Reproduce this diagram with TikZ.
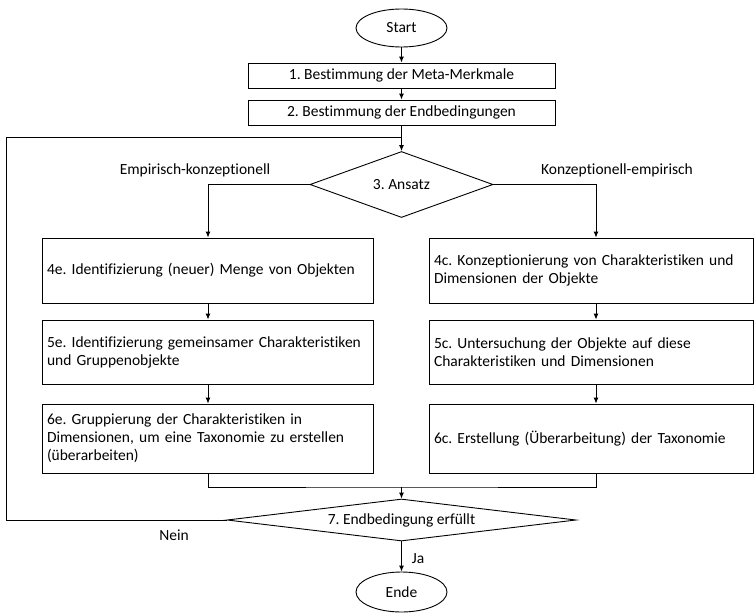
\documentclass[tikz,border=0pt]{standalone}
\usepackage{fontspec}
\setmainfont[Ligatures=NoCommon]{Carlito}
\usetikzlibrary{shapes.geometric,arrows.meta}
\begin{document}
\frenchspacing
\begin{tikzpicture}[x=1pt,y=-1pt,
  every node/.style={font=\fontsize{15.5}{18}\selectfont},
  line/.style={draw=black,line width=0.9pt},
  arr/.style={line,-{Latex[length=6pt,width=5pt]}},
  term/.style={ellipse,draw=black,line width=0.9pt,inner sep=0pt},
  box/.style={rectangle,draw=black,line width=0.9pt,inner sep=0pt},
  tbox/.style={rectangle,draw=black,line width=0.9pt,inner xsep=5pt,inner ysep=0pt,align=left},
  dec/.style={diamond,draw=black,line width=0.9pt,inner sep=0pt},
  lab/.style={inner sep=0pt}
]
\useasboundingbox (0,0) rectangle (754,613);
\coordinate (L) at (208,0);
\coordinate (R) at (596,0);
\node[term,minimum width=91pt,minimum height=38pt] (start) at (401.5,28) {Start};
\node[box,minimum width=307pt,minimum height=25pt] (b1) at (401.5,75.5) {1. Bestimmung der Meta-Merkmale};
\node[box,minimum width=307pt,minimum height=25pt] (b2) at (401.5,112.5) {2. Bestimmung der Endbedingungen};
\node[dec,minimum width=183pt,minimum height=66pt,aspect=2.77] (d3) at (401.5,184.5) {3. Ansatz};
\node[tbox,text width=321pt,minimum height=65pt] (e4) at (207.5,270.5) {4e. Identifizierung (neuer) Menge von Objekten};
\node[tbox,text width=314.5pt,minimum height=65pt] (c4) at (591.25,270.5) {4c. Konzeptionierung von Charakteristiken und\\Dimensionen der Objekte};
\node[tbox,text width=321pt,minimum height=64pt] (e5) at (207.5,352) {5e. Identifizierung gemeinsamer Charakteristiken\\und Gruppenobjekte};
\node[tbox,text width=314.5pt,minimum height=64pt] (c5) at (591.25,352) {5c. Untersuchung der Objekte auf diese\\Charakteristiken und Dimensionen};
\node[tbox,text width=321pt,minimum height=69pt] (e6) at (207.5,438.5) {6e. Gruppierung der Charakteristiken in\\Dimensionen, um eine Taxonomie zu erstellen\\(überarbeiten)};
\node[tbox,text width=314.5pt,minimum height=69pt] (c6) at (591.25,438.5) {6c. Erstellung (Überarbeitung) der Taxonomie};
\node[dec,minimum width=349pt,minimum height=42pt,aspect=8.3] (d7) at (401.5,520) {7. Endbedingung erfüllt};
\node[term,minimum width=91pt,minimum height=40pt] (ende) at (401.5,592) {Ende};
\node[lab] (lE) at (195,170) {Empirisch-konzeptionell};
\node[lab] (lK) at (617,170) {Konzeptionell-empirisch};
\node[lab] (lN) at (174,535) {Nein};
\node[lab] (lJ) at (418,559) {Ja};
\coordinate (lc) at (6,137.5);
\coordinate (m) at (401.5,487);
\draw[arr] (start) -- (b1);
\draw[arr] (b1) -- (b2);
\draw[arr] (b2.south) -- (d3.north);
\draw[arr] (d3.west) -| (e4.north -| L);
\draw[arr] (d3.east) -| (c4.north -| R);
\draw[arr] (e4.south -| L) -- (e5.north -| L);
\draw[arr] (e5.south -| L) -- (e6.north -| L);
\draw[arr] (c4.south -| R) -- (c5.north -| R);
\draw[arr] (c5.south -| R) -- (c6.north -| R);
\draw[line] (e6.south -| L) |- (m) -| (c6.south -| R);
\draw[arr] (m) -- (d7.north);
\draw[line] (d7.west) -| (lc) -- (lc -| d3.north);
\draw[arr] (d7.south) -- (ende.north);
\end{tikzpicture}
\end{document}
